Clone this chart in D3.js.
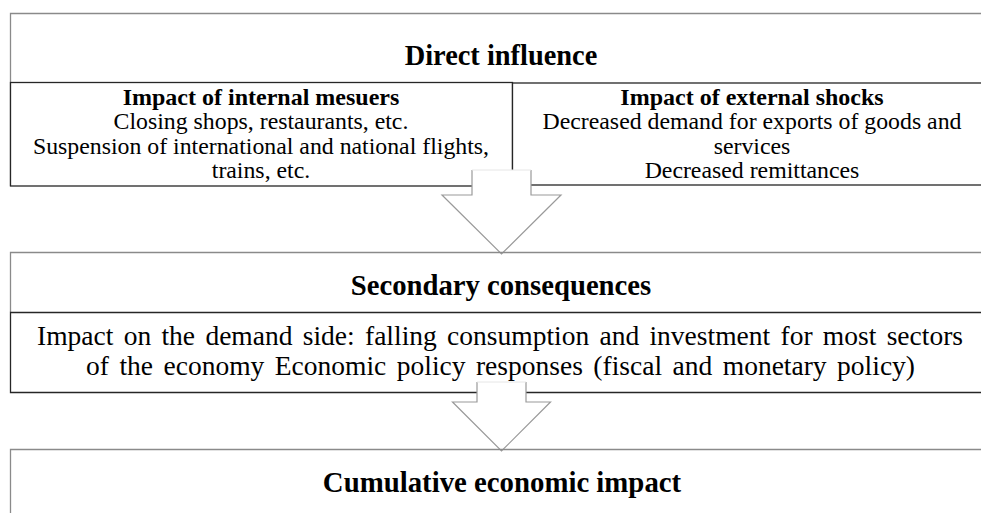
<!DOCTYPE html>
<html>
<head>
<meta charset="utf-8">
<script src="https://cdn.jsdelivr.net/npm/d3@7"></script>
<style>
  body { margin: 0; background: #fff; }
  svg text { font-family: "Liberation Serif", "Times New Roman", serif; fill: #000; }
</style>
</head>
<body>
<div id="chart"></div>
<script>
// stage titles, top to bottom
var stageTitles = ["Direct influence", "Secondary consequences", "Cumulative economic impact"];

// the two boxes under "Direct influence"
var directHeads = ["Impact of internal mesuers", "Impact of external shocks"];
var directLines = [
  ["Closing shops, restaurants, etc.", "Suspension of international and national flights,", "trains, etc."],
  ["Decreased demand for exports of goods and", "services", "Decreased remittances"]
];

// text of the secondary box
var secondaryLines = [
  "Impact on the demand side: falling consumption and investment for most sectors",
  "of the economy Economic policy responses (fiscal and monetary policy)"
];

var width = 981, height = 513;
var svg = d3.select("#chart").append("svg")
  .attr("width", width).attr("height", height);

var grey = "#8a8a8a", dark = "#262626", arrowCol = "#9a9a9a";

// outer grey frames (open on the right, page cuts them)
function frame(y0, y1) {
  svg.append("path")
    .attr("d", "M" + (width + 5) + "," + y0 + " H10.5 V" + y1)
    .attr("fill", "none").attr("stroke", grey).attr("stroke-width", 1.3);
}

// hollow down arrow
function arrow(cx, yTop, shaftHalf, headTop, headHalf, tipY) {
  var pts = [
    [cx - shaftHalf, yTop], [cx - shaftHalf, headTop], [cx - headHalf, headTop],
    [cx, tipY], [cx + headHalf, headTop], [cx + shaftHalf, headTop], [cx + shaftHalf, yTop]
  ];
  svg.append("path")
    .attr("d", d3.line()(pts))
    .attr("fill", "#fff").attr("stroke", arrowCol).attr("stroke-width", 1.2);
  svg.append("line")
    .attr("x1", cx - shaftHalf).attr("x2", cx + shaftHalf)
    .attr("y1", yTop).attr("y2", yTop)
    .attr("stroke", "#e6e6e6").attr("stroke-width", 1);
}

// stretch a line of text between two x positions by widening the word gaps
function spread(sel, str, x0, x1) {
  var natural = sel.node().getComputedTextLength();
  var gaps = str.split(" ").length - 1;
  sel.attr("word-spacing", Math.max(0, (x1 - x0 - natural) / gaps));
}

// ---- stage 1
frame(13.5, 186);
svg.append("text").attr("x", 501).attr("y", 65)
  .attr("text-anchor", "middle").attr("font-size", 28.4).attr("font-weight", "bold")
  .text(stageTitles[0]);

var boxes = [{x0: 10.5, x1: 512.5, y0: 82.5, y1: 186, cx: 261}, {x0: 512.5, x1: 990, y0: 83, y1: 185, cx: 752}];
boxes.forEach(function(b, i) {
  svg.append("rect").attr("x", b.x0).attr("y", b.y0)
    .attr("width", b.x1 - b.x0).attr("height", b.y1 - b.y0)
    .attr("fill", "#fff").attr("stroke", dark).attr("stroke-width", 1.3);
  svg.append("text").attr("x", b.cx).attr("y", 105)
    .attr("text-anchor", "middle").attr("font-size", 24).attr("font-weight", "bold")
    .text(directHeads[i]);
  directLines[i].forEach(function(t, j) {
    svg.append("text").attr("x", b.cx).attr("y", 129 + j * 24.5)
      .attr("text-anchor", "middle").attr("font-size", 23.8)
      .text(t);
  });
});

arrow(501.5, 170, 29.5, 195, 59.5, 254);

// ---- stage 2
frame(252.5, 312);
svg.append("text").attr("x", 501).attr("y", 295)
  .attr("text-anchor", "middle").attr("font-size", 28.7).attr("font-weight", "bold")
  .text(stageTitles[1]);

svg.append("path")
  .attr("d", "M" + (width + 5) + ",312.5 H10.5 V392.5 H" + (width + 5))
  .attr("fill", "none").attr("stroke", dark).attr("stroke-width", 1.3);

var l1 = svg.append("text").attr("x", 37).attr("y", 345)
  .attr("font-size", 27.5).text(secondaryLines[0]);
spread(l1, secondaryLines[0], 37, 963);

var l2 = svg.append("text").attr("x", 86).attr("y", 375)
  .attr("font-size", 27.5).text(secondaryLines[1]);
spread(l2, secondaryLines[1], 86, 915);

arrow(501.5, 382, 24.5, 402, 49, 451);

// ---- stage 3
frame(449.5, 520);
svg.append("text").attr("x", 502).attr("y", 492)
  .attr("text-anchor", "middle").attr("font-size", 28.8).attr("font-weight", "bold")
  .text(stageTitles[2]);
</script>
</body>
</html>
